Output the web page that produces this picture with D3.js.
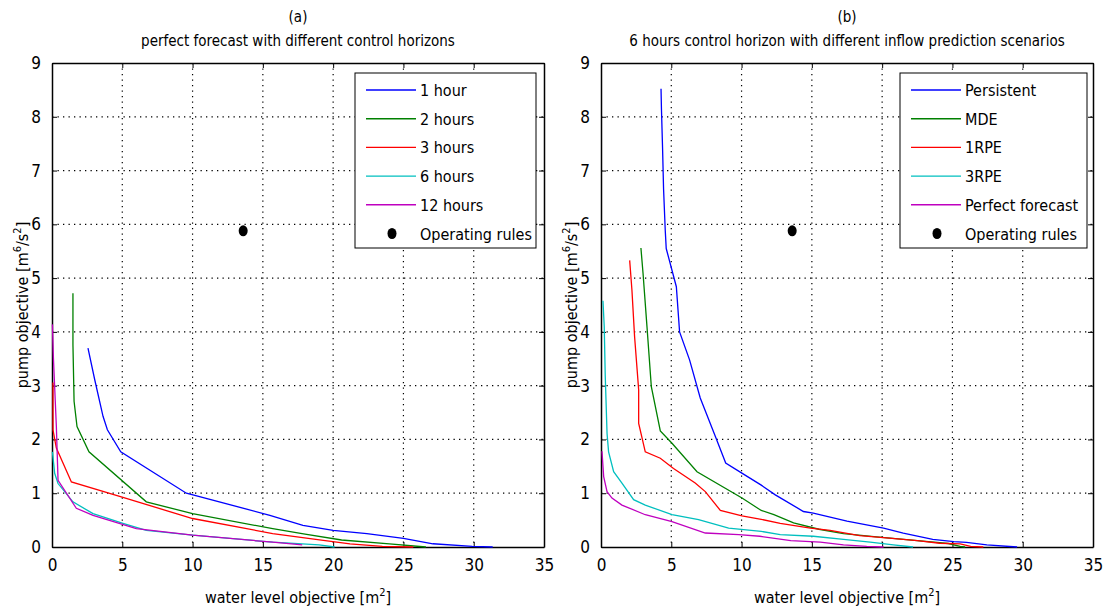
<!DOCTYPE html>
<html>
<head>
<meta charset="utf-8">
<script src="https://cdn.jsdelivr.net/npm/d3@7"></script>
<style>
  body { margin: 0; background: #fff; }
  svg text { font-family: "DejaVu Sans Condensed", "Liberation Sans Narrow", sans-serif; fill: #000; }
</style>
</head>
<body>
<div id="chart"></div>
<script>
// tick values
const xTicks = [0, 5, 10, 15, 20, 25, 30, 35];
const yTicks = [0, 1, 2, 3, 4, 5, 6, 7, 8, 9];

const seriesColors = ["#0000ff", "#008000", "#ff0000", "#00bfbf", "#bf00bf"];

// (a) perfect forecast, different control horizons
const horizonLabels = ["1 hour", "2 hours", "3 hours", "6 hours", "12 hours"];
const hour1 = [[2.56, 3.70], [3.04, 3.11], [3.63, 2.43], [3.94, 2.18], [4.89, 1.77], [9.56, 1.0], [15.5, 0.59],
  [17.85, 0.40], [20.0, 0.31], [22.4, 0.25], [25.0, 0.16], [27.1, 0.06], [29.9, 0.01], [31.35, 0.0]];
const hours2 = [[1.49, 4.72], [1.49, 3.76], [1.57, 2.71], [1.78, 2.24], [2.63, 1.77], [6.71, 0.84], [10.0, 0.62],
  [15.7, 0.34], [18.0, 0.24], [20.6, 0.13], [24.0, 0.06], [26.6, 0.0]];
const hours3 = [[0.07, 3.06], [0.07, 2.18], [0.31, 1.84], [1.38, 1.21], [4.93, 0.93], [10.0, 0.53], [15.7, 0.25],
  [19.3, 0.125], [21.2, 0.06], [23.5, 0.01], [25.7, 0.0]];
const hours6 = [[0.03, 1.77], [0.19, 1.37], [0.43, 1.18], [1.49, 0.84], [2.92, 0.62], [5.05, 0.44], [6.71, 0.31],
  [10.0, 0.22], [15.7, 0.09], [19.0, 0.04], [20.1, 0.0]];
const hours12 = [[0.03, 4.14], [0.1, 3.52], [0.31, 2.24], [0.43, 1.24], [1.73, 0.72], [2.92, 0.59], [6.0, 0.34],
  [10.0, 0.22], [15.7, 0.09], [17.8, 0.04]];
const operatingRulesA = [13.6, 5.88];

// (b) 6 hours control horizon, different inflow predictions
const scenarioLabels = ["Persistent", "MDE", "1RPE", "3RPE", "Perfect forecast"];
const persistent = [[4.27, 8.52], [4.3, 8.15], [4.38, 7.41], [4.45, 6.66], [4.57, 5.89], [4.64, 5.55], [5.36, 4.84],
  [5.59, 4.0], [6.3, 3.48], [7.06, 2.77], [8.13, 2.06], [8.87, 1.56], [10.05, 1.37], [11.4, 1.15], [12.4, 0.97],
  [14.4, 0.66], [15.1, 0.63], [17.5, 0.48], [20.1, 0.35], [21.5, 0.26], [23.6, 0.14], [25.1, 0.10], [26.0, 0.085],
  [27.45, 0.04], [29.6, 0.0]];
const mde = [[2.84, 5.56], [2.99, 5.09], [3.27, 4.10], [3.58, 2.98], [4.22, 2.16], [5.05, 1.93], [6.83, 1.40],
  [10.03, 0.91], [11.4, 0.68], [12.3, 0.6], [13.7, 0.45], [15.5, 0.33], [17.25, 0.25], [19.6, 0.19], [22.5, 0.12],
  [24.7, 0.065], [25.55, 0.01], [25.9, 0.0]];
const rpe1 = [[2.04, 5.33], [2.2, 4.78], [2.39, 3.91], [2.68, 2.92], [2.68, 2.3], [3.15, 1.77], [4.22, 1.65],
  [5.16, 1.46], [6.7, 1.19], [7.42, 1.03], [8.49, 0.68], [10.03, 0.58], [11.3, 0.52], [12.75, 0.44], [14.9, 0.35],
  [16.3, 0.31], [18.4, 0.21], [20.3, 0.17], [22.5, 0.12], [24.1, 0.07], [25.55, 0.06], [26.3, 0.01], [27.2, 0.0]];
const rpe3 = [[0.14, 4.58], [0.23, 4.10], [0.3, 3.20], [0.43, 2.11], [0.54, 1.77], [0.9, 1.40], [1.49, 1.19],
  [2.32, 0.88], [3.15, 0.78], [5.05, 0.60], [6.94, 0.51], [9.08, 0.35], [11.4, 0.29], [12.75, 0.23], [15.1, 0.20],
  [17.25, 0.14], [19.15, 0.09], [20.8, 0.04], [22.2, 0.0]];
const perfectForecast = [[0.07, 1.78], [0.19, 1.31], [0.43, 1.03], [0.78, 0.91], [1.49, 0.78], [3.15, 0.60],
  [5.05, 0.47], [7.42, 0.26], [9.8, 0.23], [11.3, 0.20], [13.5, 0.12], [15.6, 0.09], [17.25, 0.04], [18.9, 0.01],
  [20.1, 0.0]];
const operatingRulesB = [13.6, 5.88];

document.addEventListener('DOMContentLoaded', function () {
    const width = 1109;
    const height = 608;
    const top = 63, bottom = 547;

    const svg = d3.select("#chart")
        .append("svg")
        .attr("width", width)
        .attr("height", height);

    const panels = [
        {
            left: 52, right: 544, tag: "(a)",
            title: "perfect forecast with different control horizons",
            series: [hour1, hours2, hours3, hours6, hours12],
            labels: horizonLabels, rules: operatingRulesA,
            legend: { x: 355, y: 73, w: 181, h: 175 }
        },
        {
            left: 601, right: 1093, tag: "(b)",
            title: "6 hours control horizon with different inflow prediction scenarios",
            series: [persistent, mde, rpe1, rpe3, perfectForecast],
            labels: scenarioLabels, rules: operatingRulesB,
            legend: { x: 900, y: 73, w: 187, h: 175 }
        }
    ];

    panels.forEach(drawPanel);

    function drawPanel(p) {
        const x = d3.scaleLinear().domain([0, 35]).range([p.left, p.right]);
        const y = d3.scaleLinear().domain([0, 9]).range([bottom, top]);
        const g = svg.append("g");
        const cx = (p.left + p.right) / 2;

        // titles
        g.append("text").attr("x", cx).attr("y", 22).attr("text-anchor", "middle")
            .style("font-size", "15px").text(p.tag);
        g.append("text").attr("x", cx).attr("y", 46).attr("text-anchor", "middle")
            .style("font-size", "15px").text(p.title);

        // dotted grid
        g.append("g").selectAll("line").data(xTicks.slice(1, -1)).join("line")
            .attr("x1", d => x(d)).attr("x2", d => x(d))
            .attr("y1", top).attr("y2", bottom)
            .attr("stroke", "#000").attr("stroke-width", 1.2).attr("stroke-dasharray", "1.3,4.2");
        g.append("g").selectAll("line").data(yTicks.slice(1, -1)).join("line")
            .attr("y1", d => y(d)).attr("y2", d => y(d))
            .attr("x1", p.left).attr("x2", p.right)
            .attr("stroke", "#000").attr("stroke-width", 1.2).attr("stroke-dasharray", "1.3,4.2");

        // axes with inward ticks on all sides
        const fmt = d3.format("d");
        const axB = g.append("g").attr("transform", `translate(0,${bottom})`)
            .call(d3.axisBottom(x).tickValues(xTicks).tickFormat(fmt).tickSizeInner(-5).tickSizeOuter(0).tickPadding(12));
        const axT = g.append("g").attr("transform", `translate(0,${top})`)
            .call(d3.axisTop(x).tickValues(xTicks).tickFormat("").tickSizeInner(-5).tickSizeOuter(0));
        const axL = g.append("g").attr("transform", `translate(${p.left},0)`)
            .call(d3.axisLeft(y).tickValues(yTicks).tickFormat(fmt).tickSizeInner(-5).tickSizeOuter(0).tickPadding(11));
        const axR = g.append("g").attr("transform", `translate(${p.right},0)`)
            .call(d3.axisRight(y).tickValues(yTicks).tickFormat("").tickSizeInner(-5).tickSizeOuter(0));
        [axB, axT, axL, axR].forEach(a => {
            a.select(".domain").attr("stroke", "#000").attr("stroke-width", 1.5);
            a.selectAll(".tick line").attr("stroke", "#000").attr("stroke-width", 1);
            a.selectAll("text").style("font-size", "17px").attr("fill", "#000");
        });

        // axis labels
        const xl = g.append("text").attr("x", cx).attr("y", 603).attr("text-anchor", "middle")
            .style("font-size", "16px");
        xl.append("tspan").text("water level objective [m");
        xl.append("tspan").attr("dy", -7).style("font-size", "11px").text("2");
        xl.append("tspan").attr("dy", 7).text("]");

        const yl = g.append("text")
            .attr("transform", `translate(${p.left - 24},${(top + bottom) / 2}) rotate(-90)`)
            .attr("text-anchor", "middle").style("font-size", "16px");
        yl.append("tspan").text("pump objective [m");
        yl.append("tspan").attr("dy", -7).style("font-size", "11px").text("6");
        yl.append("tspan").attr("dy", 7).text("/s");
        yl.append("tspan").attr("dy", -7).style("font-size", "11px").text("2");
        yl.append("tspan").attr("dy", 7).text("]");

        // curves
        const line = d3.line().x(d => x(d[0])).y(d => y(d[1]));
        g.append("g").selectAll("path").data(p.series).join("path")
            .attr("d", line)
            .attr("fill", "none")
            .attr("stroke", (d, i) => seriesColors[i])
            .attr("stroke-width", 1.3);

        // operating rules point
        g.append("ellipse")
            .attr("cx", x(p.rules[0])).attr("cy", y(p.rules[1]))
            .attr("rx", 4.5).attr("ry", 5.5).attr("fill", "#000");

        // legend
        const L = p.legend;
        const lg = g.append("g");
        lg.append("rect").attr("x", L.x).attr("y", L.y).attr("width", L.w).attr("height", L.h)
            .attr("fill", "#fff").attr("stroke", "#000").attr("stroke-width", 1);
        const rows = p.labels.concat(["Operating rules"]);
        const rowY = i => L.y + 17 + i * 28.7;
        lg.selectAll("line.key").data(p.labels).join("line").attr("class", "key")
            .attr("x1", L.x + 11).attr("x2", L.x + 61)
            .attr("y1", (d, i) => rowY(i)).attr("y2", (d, i) => rowY(i))
            .attr("stroke", (d, i) => seriesColors[i]).attr("stroke-width", 1.4);
        lg.append("ellipse").attr("cx", L.x + 37).attr("cy", rowY(5))
            .attr("rx", 4.5).attr("ry", 5.5).attr("fill", "#000");
        lg.selectAll("text").data(rows).join("text")
            .attr("x", L.x + 65).attr("y", (d, i) => rowY(i) + 6)
            .style("font-size", "16px").text(d => d);
    }
});
</script>
</body>
</html>
